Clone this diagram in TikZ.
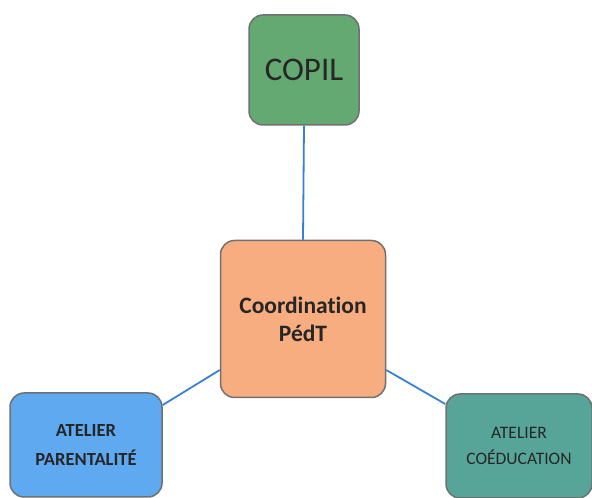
\documentclass[tikz,border=0pt]{standalone}
\usepackage{fontspec}
\setmainfont[Ligatures=NoCommon]{Carlito}
\definecolor{copilg}{HTML}{64A872}
\definecolor{coordo}{HTML}{F8AD80}
\definecolor{parblue}{HTML}{5EA9F0}
\definecolor{coedt}{HTML}{56A598}
\definecolor{edgeg}{HTML}{707070}
\definecolor{linkb}{HTML}{3A80D2}
\begin{document}
\begin{tikzpicture}[x=1pt,y=1pt,
  boxst/.style={draw=edgeg,line width=1.5pt,rounded corners=14pt,align=center,inner sep=0pt,text=black!85},
  link/.style={draw=linkb,line width=1.8pt}]
\useasboundingbox (0,0) rectangle (592,498);
\node[boxst,fill=copilg,minimum width=110,minimum height=110,font=\fontsize{33}{36}\selectfont] (copil) at (304,428) {COPIL};
\node[boxst,fill=coordo,minimum width=165,minimum height=157,font=\bfseries\fontsize{23.5}{28}\selectfont] (coord) at (303,179) {Coordination\\PédT};
\node[boxst,fill=parblue,minimum width=152,minimum height=104,font=\bfseries\fontsize{18.5}{29}\selectfont] (par) at (86,53) {ATELIER\\PARENTALITÉ};
\node[boxst,fill=coedt,minimum width=146,minimum height=104,font=\fontsize{17.5}{26}\selectfont] (coe) at (519,52) {ATELIER\\COÉDUCATION};
\draw[link] (copil.south) -- (coord.north);
\draw[link] (coord.west |- 0,128) -- (par.east |- 0,93);
\draw[link] (coord.east |- 0,128) -- (coe.west |- 0,94);
\end{tikzpicture}
\end{document}
